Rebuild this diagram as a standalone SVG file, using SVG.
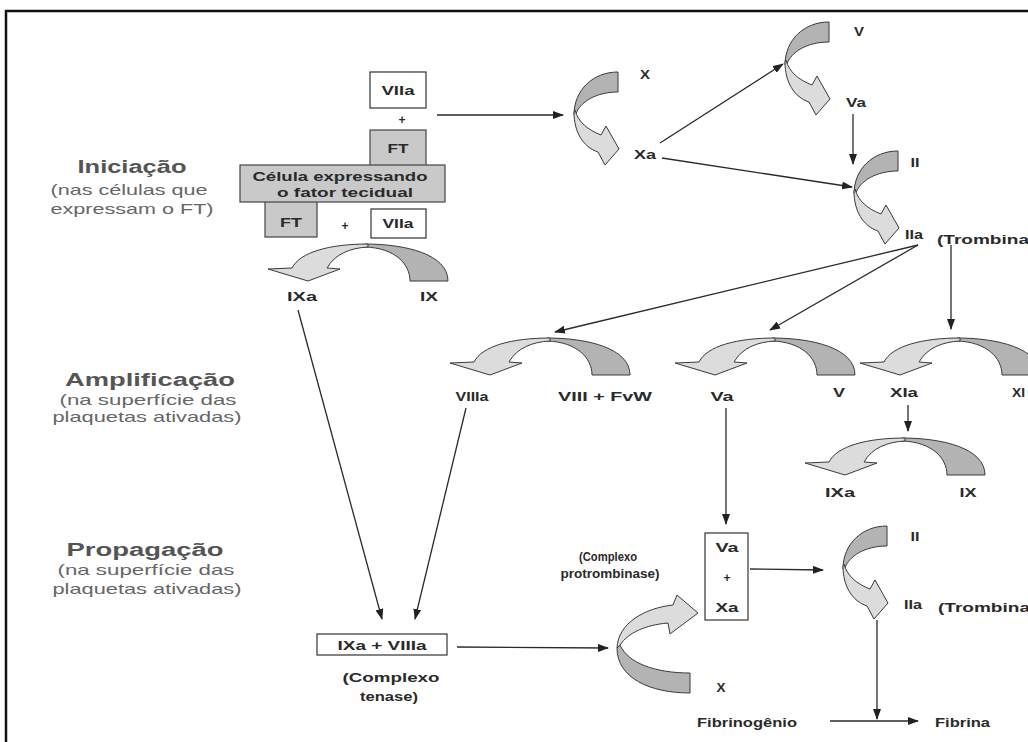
<svg xmlns="http://www.w3.org/2000/svg" width="1028" height="742" viewBox="0 0 1028 742">
<style>
.t{font-family:"Liberation Sans",Arial,sans-serif;font-weight:bold;font-size:12px;fill:#2a2a2a}
.m{text-anchor:middle}
.stage{font-family:"Liberation Sans",Arial,sans-serif;font-weight:bold;font-size:18px;fill:#555;text-anchor:middle}
.sub{font-family:"Liberation Sans",Arial,sans-serif;font-size:15px;fill:#666;text-anchor:middle}
.dark{fill:#b3b3b3;stroke:#3a3a3a;stroke-width:1}
.light{fill:#dcdcdc;stroke:#3a3a3a;stroke-width:1}
.box{fill:#fff;stroke:#333;stroke-width:1.2}
.gbox{fill:#c9c9c9;stroke:#444;stroke-width:1.2}
.c{fill:none;stroke:#2a2a2a;stroke-width:1.3;marker-end:url(#ah)}
</style>
<defs>
<marker id="ah" markerWidth="11" markerHeight="8" refX="10" refY="4" orient="auto" markerUnits="userSpaceOnUse"><path d="M0,0 L11,4 L0,8 Z" fill="#222"/></marker>
<g id="harc">
<path class="dark" d="M0,0 C40,0 83,10 83,37 L45,37 C45,20 30,4 0,3 Z"/>
<path class="light" d="M3,0 C-35,0 -65,8 -73,24 L-97,25 L-57,37 L-25,25 L-38,24 C-30,10 -15,4 3,3 Z"/>
</g>
<g id="varc">
<path class="dark" d="M0,0 C-25,0 -44,18 -44,43 L-42,42 C-38,30 -22,20 0,20 Z"/>
<path class="light" d="M-44,40 C-44,60 -35,75 -20,80 L-13,93 L1,77 L-12,54 L-17,63 C-30,58 -40,50 -43,38 Z"/>
</g>
<g id="varc2">
<path class="dark" d="M0,0 C-40,0 -73,-15 -73,-45 L-70,-48 C-62,-30 -35,-20 0,-20 Z"/>
<path class="light" d="M-73,-45 C-72,-70 -45,-85 -17,-88 L-13,-98 L8,-80 L-20,-59 L-22,-70 C-45,-68 -62,-60 -70,-48 Z"/>
</g>
</defs>
<rect width="1028" height="742" fill="#fff"/>
<rect x="6" y="11" width="1040" height="760" fill="none" stroke="#111" stroke-width="2.5"/>

<g id="stage-iniciacao">
<text class="stage" x="132" y="173" textLength="109" lengthAdjust="spacingAndGlyphs">Iniciação</text>
<text class="sub" x="129" y="195" textLength="157" lengthAdjust="spacingAndGlyphs">(nas células que</text>
<text class="sub" x="132" y="214" textLength="163" lengthAdjust="spacingAndGlyphs">expressam o FT)</text>
</g>
<g id="stage-amplificacao">
<text class="stage" x="150" y="386" textLength="170" lengthAdjust="spacingAndGlyphs">Amplificação</text>
<text class="sub" x="148" y="405" textLength="177" lengthAdjust="spacingAndGlyphs">(na superfície das</text>
<text class="sub" x="147" y="422" textLength="189" lengthAdjust="spacingAndGlyphs">plaquetas ativadas)</text>
</g>
<g id="stage-propagacao">
<text class="stage" x="145" y="556" textLength="157" lengthAdjust="spacingAndGlyphs">Propagação</text>
<text class="sub" x="146" y="575" textLength="177" lengthAdjust="spacingAndGlyphs">(na superfície das</text>
<text class="sub" x="147" y="594" textLength="189" lengthAdjust="spacingAndGlyphs">plaquetas ativadas)</text>
</g>

<g id="connectors">
<line class="c" x1="437" y1="115" x2="563" y2="115"/>
<line class="c" x1="660" y1="143" x2="783" y2="64"/>
<line class="c" x1="662" y1="158" x2="852" y2="187"/>
<line class="c" x1="853" y1="114" x2="853" y2="164"/>
<line class="c" x1="918" y1="245" x2="555" y2="332"/>
<line class="c" x1="918" y1="245" x2="770" y2="330"/>
<line class="c" x1="951" y1="245" x2="951" y2="329"/>
<line class="c" x1="908" y1="405" x2="908" y2="431"/>
<line class="c" x1="298" y1="310" x2="382" y2="619"/>
<line class="c" x1="466" y1="408" x2="415" y2="619"/>
<line class="c" x1="457" y1="647" x2="608" y2="648"/>
<line class="c" x1="726" y1="408" x2="726" y2="524"/>
<line class="c" x1="750" y1="569" x2="823" y2="570"/>
<line class="c" x1="877" y1="620" x2="877" y2="719"/>
<line class="c" x1="830" y1="721" x2="918" y2="721"/>
</g>

<g id="node-cell">
<rect class="box" x="370" y="72" width="56" height="36"/>
<text class="t m" x="398" y="95" textLength="33" lengthAdjust="spacingAndGlyphs">VIIa</text>
<text class="t m" x="402" y="124">+</text>
<rect class="gbox" x="370" y="130" width="56" height="36"/>
<text class="t m" x="398" y="153" textLength="21" lengthAdjust="spacingAndGlyphs">FT</text>
<rect class="gbox" x="265" y="200" width="52" height="37"/>
<text class="t m" x="291" y="227" textLength="22" lengthAdjust="spacingAndGlyphs">FT</text>
<rect class="gbox" x="240" y="165" width="205" height="37"/>
<text class="t m" x="340" y="181" textLength="175" lengthAdjust="spacingAndGlyphs">Célula expressando</text>
<text class="t m" x="345" y="197" textLength="136" lengthAdjust="spacingAndGlyphs">o fator tecidual</text>
<text class="t m" x="345" y="230">+</text>
<rect class="box" x="371" y="209" width="55" height="29"/>
<text class="t m" x="398" y="228" textLength="31" lengthAdjust="spacingAndGlyphs">VIIa</text>
</g>

<g id="node-X-Xa">
<use href="#varc" x="618" y="72"/>
<text class="t m" x="645" y="79" textLength="10" lengthAdjust="spacingAndGlyphs">X</text>
<text class="t m" x="645" y="159" textLength="22" lengthAdjust="spacingAndGlyphs">Xa</text>
</g>
<g id="node-V-Va">
<use href="#varc" x="829" y="22"/>
<text class="t m" x="859" y="36" textLength="10" lengthAdjust="spacingAndGlyphs">V</text>
<text class="t m" x="856" y="107" textLength="20" lengthAdjust="spacingAndGlyphs">Va</text>
</g>
<g id="node-II-IIa">
<use href="#varc" x="898" y="151"/>
<text class="t m" x="915" y="167" textLength="9" lengthAdjust="spacingAndGlyphs">II</text>
<text class="t m" x="914" y="239" textLength="18" lengthAdjust="spacingAndGlyphs">IIa</text>
<text class="t" x="937" y="244" textLength="92" lengthAdjust="spacingAndGlyphs">(Trombina</text>
</g>
<g id="node-IX-IXa">
<use href="#harc" x="365" y="244"/>
<text class="t m" x="302" y="301" textLength="30" lengthAdjust="spacingAndGlyphs">IXa</text>
<text class="t m" x="429" y="301" textLength="18" lengthAdjust="spacingAndGlyphs">IX</text>
</g>
<g id="node-VIII-VIIIa">
<use href="#harc" x="547" y="338"/>
<text class="t m" x="472" y="401" textLength="33" lengthAdjust="spacingAndGlyphs">VIIIa</text>
<text class="t m" x="605" y="401" textLength="94" lengthAdjust="spacingAndGlyphs">VIII + FvW</text>
</g>
<g id="node-V-Va-amp">
<use href="#harc" x="772" y="338"/>
<text class="t m" x="722" y="401" textLength="23" lengthAdjust="spacingAndGlyphs">Va</text>
<text class="t m" x="839" y="397" textLength="12" lengthAdjust="spacingAndGlyphs">V</text>
</g>
<g id="node-XI-XIa">
<use href="#harc" x="957" y="338"/>
<text class="t m" x="904" y="397" textLength="28" lengthAdjust="spacingAndGlyphs">XIa</text>
<text class="t" x="1012" y="397" textLength="13" lengthAdjust="spacingAndGlyphs">XI</text>
</g>
<g id="node-IX-IXa-amp">
<use href="#harc" x="902" y="438"/>
<text class="t m" x="840" y="497" textLength="30" lengthAdjust="spacingAndGlyphs">IXa</text>
<text class="t m" x="968" y="497" textLength="17" lengthAdjust="spacingAndGlyphs">IX</text>
</g>
<g id="node-tenase">
<rect class="box" x="317" y="634" width="130" height="21"/>
<text class="t m" x="382" y="650" textLength="89" lengthAdjust="spacingAndGlyphs">IXa + VIIIa</text>
<text class="t m" x="391" y="682" textLength="97" lengthAdjust="spacingAndGlyphs">(Complexo</text>
<text class="t m" x="389" y="701" textLength="58" lengthAdjust="spacingAndGlyphs">tenase)</text>
</g>
<g id="node-X-Xa-prop">
<use href="#varc2" x="690" y="693"/>
<text class="t m" x="721" y="692" textLength="9" lengthAdjust="spacingAndGlyphs">X</text>
</g>
<g id="node-protrombinase">
<rect class="box" x="705" y="533" width="43" height="87"/>
<text class="t m" x="727" y="552" textLength="23" lengthAdjust="spacingAndGlyphs">Va</text>
<text class="t m" x="727" y="582">+</text>
<text class="t m" x="727" y="612" textLength="23" lengthAdjust="spacingAndGlyphs">Xa</text>
<text class="t m" x="608" y="561" textLength="58" lengthAdjust="spacingAndGlyphs">(Complexo</text>
<text class="t m" x="610" y="578" textLength="99" lengthAdjust="spacingAndGlyphs">protrombinase)</text>
</g>
<g id="node-II-IIa-prop">
<use href="#varc" x="887" y="526"/>
<text class="t m" x="915" y="541" textLength="9" lengthAdjust="spacingAndGlyphs">II</text>
<text class="t m" x="913" y="609" textLength="18" lengthAdjust="spacingAndGlyphs">IIa</text>
<text class="t" x="938" y="612" textLength="92" lengthAdjust="spacingAndGlyphs">(Trombina</text>
</g>
<g id="node-fibrina">
<text class="t" x="697" y="727" textLength="100" lengthAdjust="spacingAndGlyphs">Fibrinogênio</text>
<text class="t" x="935" y="727" textLength="55" lengthAdjust="spacingAndGlyphs">Fibrina</text>
</g>
</svg>
